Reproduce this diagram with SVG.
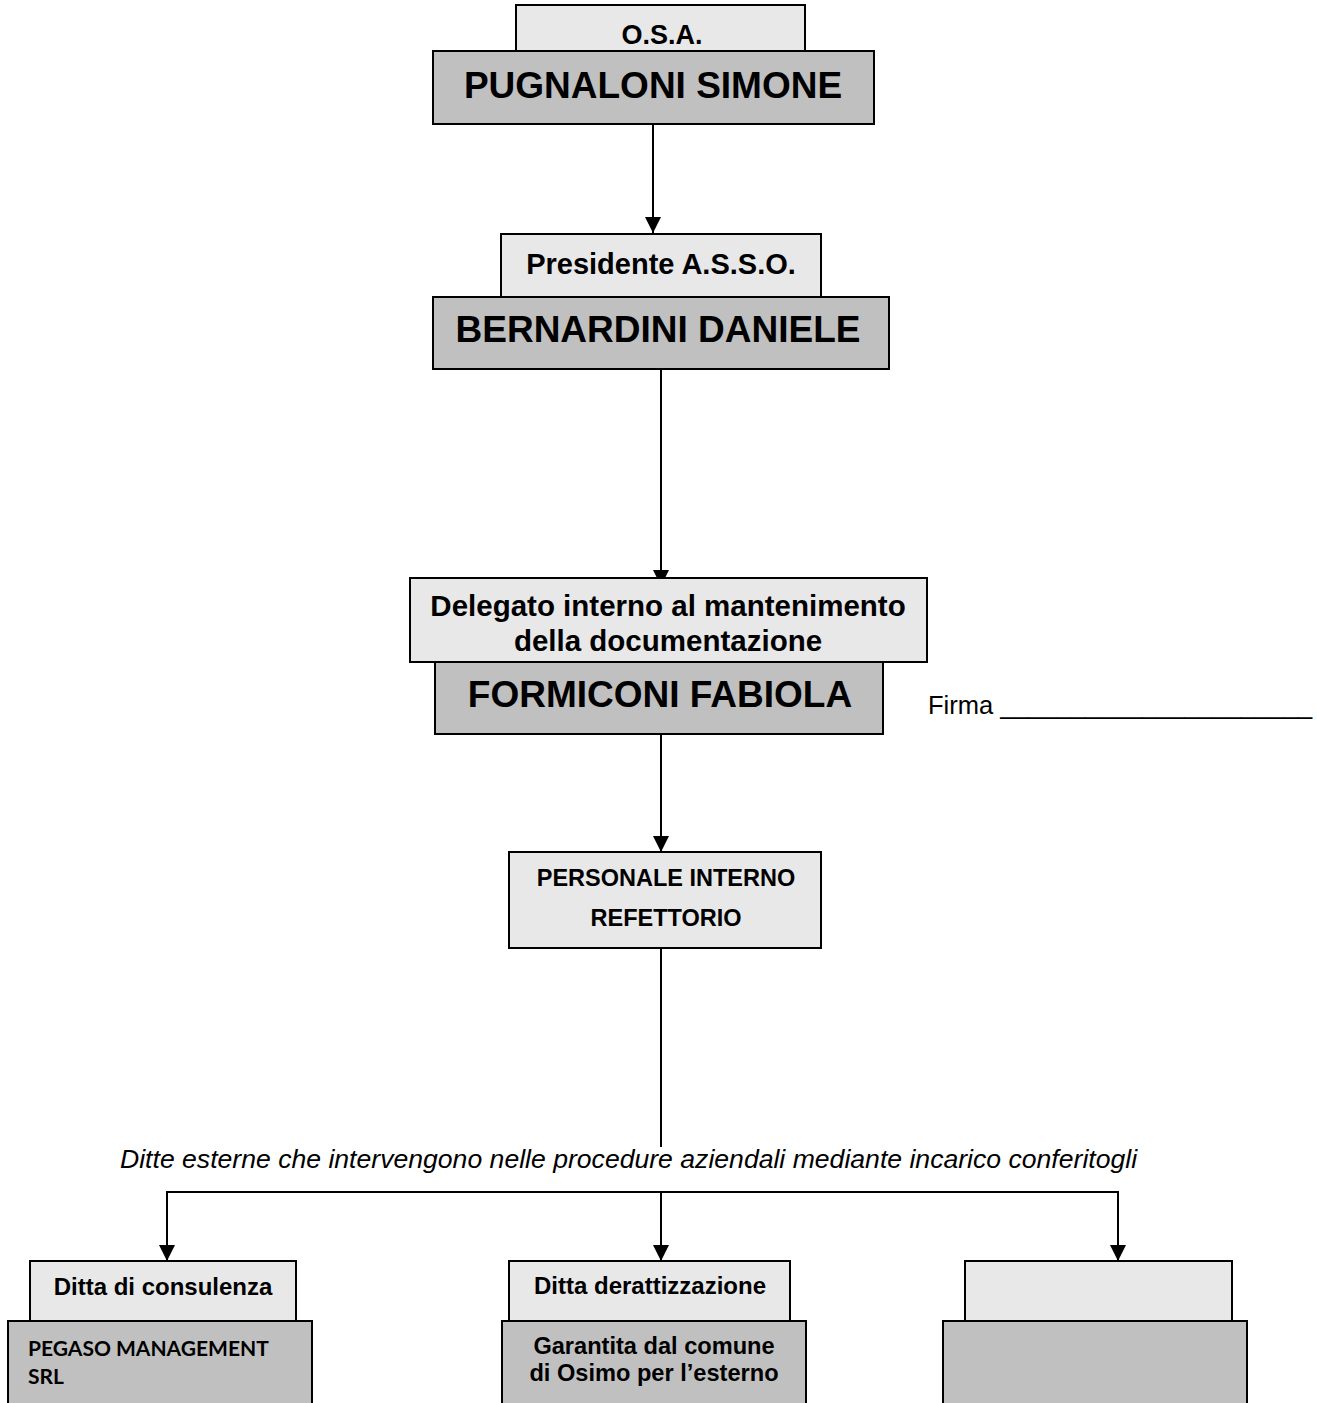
<svg xmlns="http://www.w3.org/2000/svg" width="1317" height="1403" viewBox="0 0 1317 1403">
<style>
.lt{fill:#e8e8e8;stroke:#000;stroke-width:2}
.dk{fill:#c0c0c0;stroke:#000;stroke-width:2}
.b{font-family:"Liberation Sans",Arial,sans-serif;font-weight:bold;fill:#000;text-anchor:middle}
.r{font-family:"Liberation Sans",Arial,sans-serif;fill:#000}
.c{fill:none;stroke:#000;stroke-width:2}
</style>
<defs>
<marker id="ah" markerUnits="userSpaceOnUse" markerWidth="18" markerHeight="16" refX="16" refY="8" orient="auto">
<path d="M0,0 L16,8 L0,16 Z" fill="#000"/>
</marker>
</defs>
<rect width="1317" height="1403" fill="#fff"/>
<g id="connectors">
<line class="c" x1="653" y1="124" x2="653" y2="233" marker-end="url(#ah)"/>
<line class="c" x1="661" y1="369" x2="661" y2="586" marker-end="url(#ah)"/>
<line class="c" x1="661" y1="734" x2="661" y2="852" marker-end="url(#ah)"/>
<line class="c" x1="661" y1="948" x2="661" y2="1147"/>
<line class="c" x1="166" y1="1192" x2="1119" y2="1192"/>
<line class="c" x1="167" y1="1192" x2="167" y2="1261" marker-end="url(#ah)"/>
<line class="c" x1="1118" y1="1192" x2="1118" y2="1261" marker-end="url(#ah)"/>
<line class="c" x1="661" y1="1192" x2="661" y2="1261" marker-end="url(#ah)"/>
</g>
<g id="node-osa">
<rect class="lt" x="516" y="5" width="289" height="46"/>
<text class="b" x="662" y="44" font-size="27">O.S.A.</text>
</g>
<g id="node-pugnaloni">
<rect class="dk" x="433" y="51" width="441" height="73"/>
<text class="b" x="653" y="98" font-size="37">PUGNALONI SIMONE</text>
</g>
<g id="node-presidente">
<rect class="lt" x="501" y="234" width="320" height="63"/>
<text class="b" x="661" y="274" font-size="29">Presidente A.S.S.O.</text>
</g>
<g id="node-bernardini">
<rect class="dk" x="433" y="297" width="456" height="72"/>
<text class="b" x="658" y="342" font-size="37">BERNARDINI DANIELE</text>
</g>
<g id="node-delegato">
<rect class="lt" x="410" y="578" width="517" height="84"/>
<text class="b" x="668" y="616" font-size="29.5">Delegato interno al mantenimento</text>
<text class="b" x="668" y="651" font-size="29.5">della documentazione</text>
</g>
<g id="node-formiconi">
<rect class="dk" x="435" y="662" width="448" height="72"/>
<text class="b" x="660" y="707" font-size="37">FORMICONI FABIOLA</text>
</g>
<g id="firma">
<text class="r" x="928" y="714" font-size="25.5">Firma ______________________</text>
</g>
<g id="node-personale">
<rect class="lt" x="509" y="852" width="312" height="96"/>
<text class="b" x="666" y="886" font-size="23.5">PERSONALE INTERNO</text>
<text class="b" x="666" y="926" font-size="23.5">REFETTORIO</text>
</g>
<g id="label-ditte">
<text class="r" x="120" y="1168" font-size="26.6" font-style="italic">Ditte esterne che intervengono nelle procedure aziendali mediante incarico conferitogli</text>
</g>
<g id="node-consulenza">
<rect class="lt" x="30" y="1261" width="266" height="60"/>
<text class="b" x="163" y="1295" font-size="24">Ditta di consulenza</text>
<rect class="dk" x="8" y="1321" width="304" height="90"/>
<text x="28" y="1356" font-size="21" font-family="Lato,'Open Sans',sans-serif" font-weight="bold">PEGASO MANAGEMENT</text>
<text x="28" y="1384" font-size="21" font-family="Lato,'Open Sans',sans-serif" font-weight="bold">SRL</text>
</g>
<g id="node-derattizzazione">
<rect class="lt" x="509" y="1261" width="281" height="60"/>
<text class="b" x="650" y="1294" font-size="24">Ditta derattizzazione</text>
<rect class="dk" x="502" y="1321" width="304" height="90"/>
<text class="b" x="654" y="1354" font-size="23.6">Garantita dal comune</text>
<text class="b" x="654" y="1381" font-size="23.6">di Osimo per l’esterno</text>
</g>
<g id="node-empty">
<rect class="lt" x="965" y="1261" width="267" height="60"/>
<rect class="dk" x="943" y="1321" width="304" height="90"/>
</g>
</svg>
